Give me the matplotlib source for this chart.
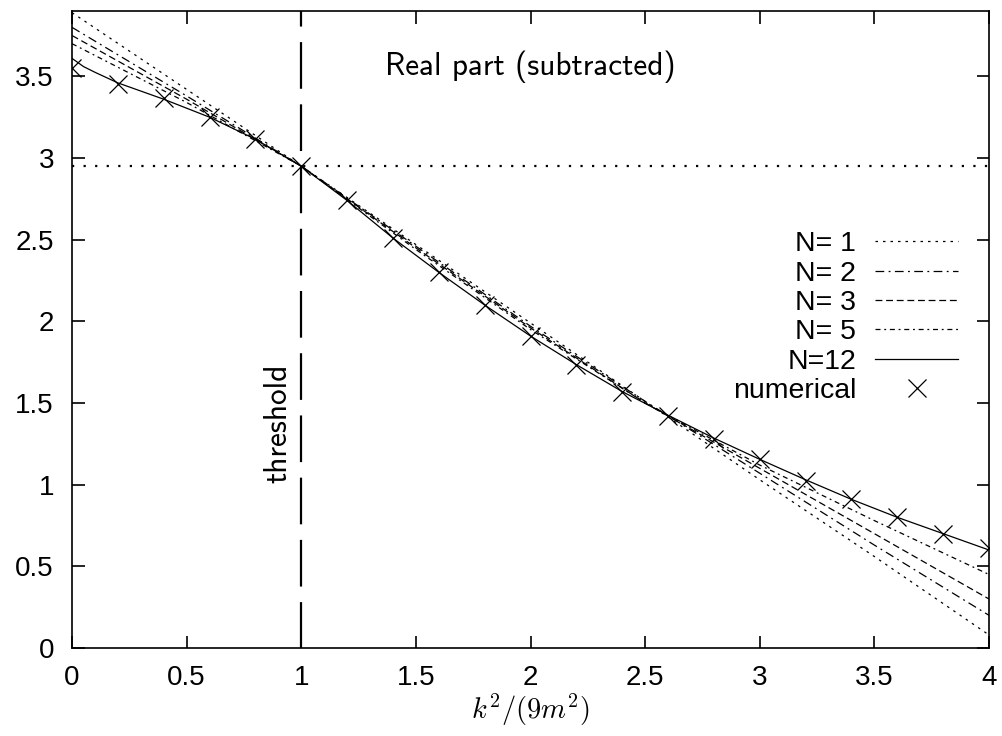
import matplotlib
matplotlib.use("Agg")
from matplotlib import pyplot as plt
import numpy as np

plt.rcParams['font.family'] = ['Liberation Sans', 'DejaVu Sans']
plt.rcParams['mathtext.fontset'] = 'cm'

# approximants
x_grid = [0, 0.5, 1, 1.5, 2, 2.5, 3, 3.5, 4]
n1 = [3.89, 3.42, 2.95, 2.47, 1.99, 1.51, 1.03, 0.56, 0.08]
n2 = [3.80, 3.38, 2.95, 2.46, 1.97, 1.51, 1.07, 0.63, 0.20]
n3 = [3.75, 3.36, 2.95, 2.45, 1.96, 1.50, 1.10, 0.70, 0.30]
n5 = [3.70, 3.34, 2.95, 2.44, 1.95, 1.50, 1.12, 0.78, 0.45]

x12 = [0, 0.05, 0.1, 0.2, 0.4, 0.6, 0.8, 1.0, 1.2, 1.4, 1.6, 1.8, 2.0, 2.2,
       2.4, 2.6, 2.8, 3.0, 3.2, 3.4, 3.6, 4.0]
n12 = [3.61, 3.56, 3.525, 3.46, 3.36, 3.25, 3.115, 2.95, 2.74, 2.51, 2.30,
       2.10, 1.91, 1.735, 1.57, 1.425, 1.285, 1.155, 1.03, 0.91, 0.80, 0.60]

# numerical points
x_num = [0, 0.2, 0.4, 0.6, 0.8, 1.0, 1.2, 1.4, 1.6, 1.8, 2.0, 2.2, 2.4,
         2.6, 2.8, 3.0, 3.2, 3.4, 3.6, 3.8, 4.0]
y_num = [3.55, 3.455, 3.365, 3.25, 3.115, 2.95, 2.74, 2.51, 2.30, 2.10,
         1.91, 1.735, 1.57, 1.42, 1.28, 1.155, 1.025, 0.91, 0.80, 0.70, 0.61]

threshold_x = 1.0
threshold_y = 2.95

fig = plt.figure(figsize=(10.02, 7.36), dpi=100)
ax = fig.add_axes([0.0719, 0.1196, 0.9151, 0.8654])

lw = 0.9
ax.plot(x_grid, n1, color='k', lw=lw, ls=(0, (2, 4)), label='N= 1')
ax.plot(x_grid, n2, color='k', lw=lw, ls=(0, (7, 3.5, 1.5, 3.5)), label='N= 2')
ax.plot(x_grid, n3, color='k', lw=lw, ls=(0, (5.5, 3)), label='N= 3')
ax.plot(x_grid, n5, color='k', lw=lw, ls=(0, (4, 3, 1.5, 3)), label='N= 5')
ax.plot(x12, n12, color='k', lw=lw, label='N=12')
ax.plot(x_num, y_num, ls='none', marker='x', ms=13, mew=0.9, color='k',
        label='numerical')

# threshold markers
ax.plot([threshold_x, threshold_x], [3.9, 0], color='k', lw=1.6,
        ls=(14, (21, 7)))
ax.plot([0, 4], [threshold_y, threshold_y], color='k', lw=1.6,
        ls=(0, (1, 4.2)))

ax.set_xlim(0, 4)
ax.set_ylim(0, 3.9)
xt = [0, 0.5, 1, 1.5, 2, 2.5, 3, 3.5, 4]
yt = [0, 0.5, 1, 1.5, 2, 2.5, 3, 3.5]
ax.set_xticks(xt)
ax.set_xticklabels(['0', '0.5', '1', '1.5', '2', '2.5', '3', '3.5', '4'])
ax.set_yticks(yt)
ax.set_yticklabels(['0', '0.5', '1', '1.5', '2', '2.5', '3', '3.5'])
ax.tick_params(direction='in', length=9, width=1.2, top=True, right=True,
               labelsize=20)
ax.tick_params(axis='x', pad=12)
ax.tick_params(axis='y', pad=13)
for s in ax.spines.values():
    s.set_linewidth(1.2)

ax.set_xlabel(r'$k^2/(9m^2)$', fontsize=20.5, labelpad=1)

ax.text(0.5, 0.912, 'Real part (subtracted)', transform=ax.transAxes,
        family='cmss10', fontsize=22.5, ha='center', va='center')
ax.text(0.2246, 0.352, 'threshold', transform=ax.transAxes,
        family='cmss10', fontsize=22.5, ha='center', va='center', rotation=90)

ax.legend(loc='upper right', bbox_to_anchor=(0.966, 0.654), frameon=False,
          markerfirst=False, fontsize=20.5, handlelength=2.9,
          handletextpad=0.67, labelspacing=0.115, borderpad=0,
          borderaxespad=0)

fig.savefig('out.png', dpi=100)
